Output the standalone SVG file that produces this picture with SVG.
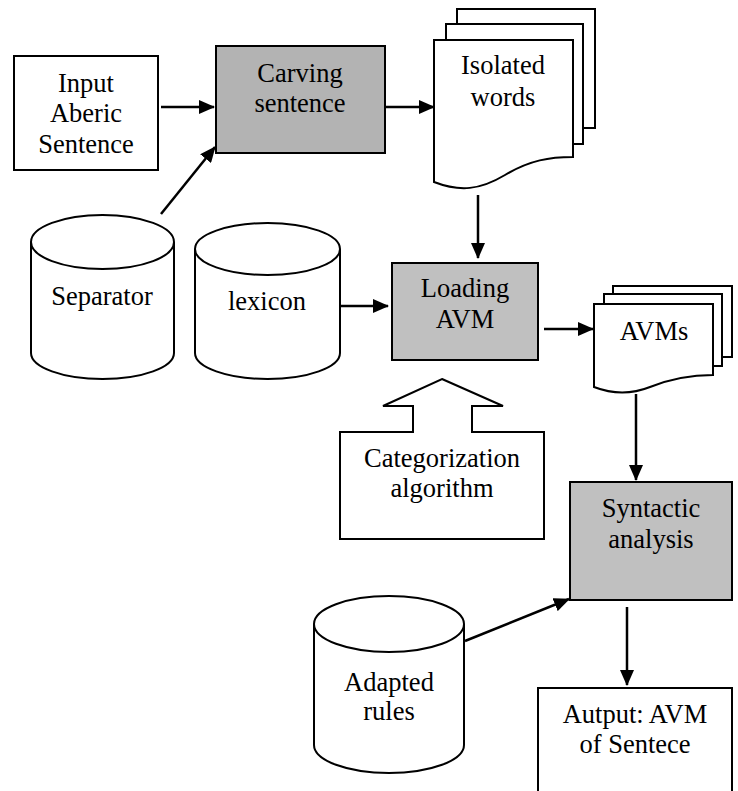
<svg xmlns="http://www.w3.org/2000/svg" width="738" height="791" viewBox="0 0 738 791">
<style>
.s{fill:#fff;stroke:#000;stroke-width:2}
.g{stroke:#000;stroke-width:2}
.t{font-size:26.5px;fill:#000;text-anchor:middle}
.c{fill:none;stroke:#000;stroke-width:2.5}
</style>
<defs>
<marker id="ah" markerWidth="16" markerHeight="14" refX="15" refY="7" orient="auto" markerUnits="userSpaceOnUse">
<path d="M0,0 L16,7 L0,14 Z" fill="#000"/>
</marker>
</defs>
<rect width="738" height="791" fill="#fff"/>
<g font-family="Liberation Serif, DejaVu Serif, serif">
<g id="input">
<rect class="s" x="14" y="56" width="144" height="114"/>
<text class="t" x="86" y="92">Input</text>
<text class="t" x="86" y="122">Aberic</text>
<text class="t" x="86" y="153">Sentence</text>
</g>

<g id="carving">
<rect class="g" x="216" y="46" width="169" height="107" fill="#b3b3b3"/>
<text class="t" x="300" y="82">Carving</text>
<text class="t" x="300" y="112">sentence</text>
</g>

<g id="isolated">
<rect class="s" x="457" y="9" width="138" height="119"/>
<rect class="s" x="446" y="24" width="137" height="120"/>
<path class="s" d="M434,40 H573 V157 C550,157 530,160 505,175 C480,190 460,192 434,182 Z"/>
<text class="t" x="503" y="74">Isolated</text>
<text class="t" x="503" y="106">words</text>
</g>

<g id="separator">
<path class="s" d="M31,242 V353 A71.5,26 0 0 0 174,353 V242"/>
<ellipse class="s" cx="102.5" cy="242" rx="71.5" ry="27"/>
<text class="t" x="102" y="305">Separator</text>
</g>

<g id="lexicon">
<path class="s" d="M195,249 V353 A72.5,26 0 0 0 340,353 V249"/>
<ellipse class="s" cx="267.5" cy="249" rx="72.5" ry="26"/>
<text class="t" x="267" y="310">lexicon</text>
</g>

<g id="loading">
<rect class="g" x="392" y="263" width="146" height="97" fill="#c0c0c0"/>
<text class="t" x="465" y="297">Loading</text>
<text class="t" x="465" y="328">AVM</text>
</g>

<g id="avms">
<rect class="s" x="613" y="286" width="119" height="71"/>
<rect class="s" x="604" y="294" width="118" height="72"/>
<path class="s" d="M594,304 H713 V375 C695,375 675,377 650,387 C630,395 612,394 594,387 Z"/>
<text class="t" x="654" y="340">AVMs</text>
</g>

<g id="categorization">
<path class="s" d="M442,379 L503,406 H472 V432 H544 V539 H340 V432 H413 V406 H383 Z"/>
<text class="t" x="442" y="467">Categorization</text>
<text class="t" x="442" y="497">algorithm</text>
</g>

<g id="syntactic">
<rect class="g" x="570" y="482" width="162" height="118" fill="#c0c0c0"/>
<text class="t" x="651" y="517">Syntactic</text>
<text class="t" x="651" y="548">analysis</text>
</g>

<g id="adapted">
<path class="s" d="M314,624 V745 A75,28 0 0 0 464,745 V624"/>
<ellipse class="s" cx="389" cy="624" rx="75" ry="28"/>
<text class="t" x="389" y="691">Adapted</text>
<text class="t" x="389" y="720">rules</text>
</g>

<g id="output">
<rect class="s" x="538" y="688" width="194" height="120"/>
<text class="t" x="635" y="723">Autput: AVM</text>
<text class="t" x="635" y="753">of Sentece</text>
</g>
</g>
<g id="connectors">
<line class="c" x1="161" y1="107" x2="214" y2="107" marker-end="url(#ah)"/>
<line class="c" x1="161" y1="214" x2="215" y2="147" marker-end="url(#ah)"/>
<line class="c" x1="385" y1="107" x2="434" y2="107" marker-end="url(#ah)"/>
<line class="c" x1="478" y1="195" x2="478" y2="258" marker-end="url(#ah)"/>
<line class="c" x1="341" y1="306" x2="388" y2="306" marker-end="url(#ah)"/>
<line class="c" x1="544" y1="329" x2="593" y2="329" marker-end="url(#ah)"/>
<line class="c" x1="636" y1="394" x2="636" y2="480" marker-end="url(#ah)"/>
<line class="c" x1="465" y1="641" x2="569" y2="599" marker-end="url(#ah)"/>
<line class="c" x1="627" y1="607" x2="627" y2="685" marker-end="url(#ah)"/>
</g>
</svg>
